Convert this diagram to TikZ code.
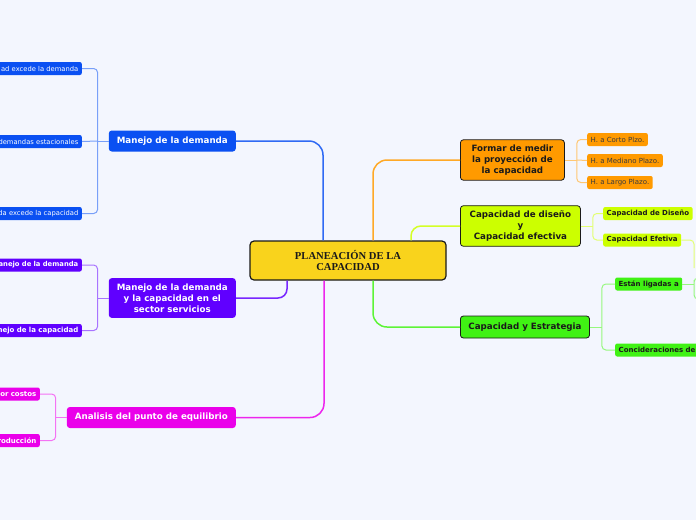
\documentclass[tikz,border=0pt]{standalone}
\usepackage{fontspec}
\setmainfont{DejaVu Sans}
\newfontfamily\rootfont{Liberation Serif}
\usetikzlibrary{positioning}
\definecolor{bgc}{HTML}{F3F6FE}
\definecolor{rootc}{HTML}{F9D31C}
\definecolor{bluec}{HTML}{0A50F2}
\definecolor{purpc}{HTML}{6000FF}
\definecolor{magc}{HTML}{EA00EA}
\definecolor{orac}{HTML}{FF9A00}
\definecolor{yelc}{HTML}{CCFF00}
\definecolor{grec}{HTML}{40F214}
\definecolor{inkc}{HTML}{1A1A1A}

\begin{document}
\begin{tikzpicture}[x=1pt,y=-1pt,
    rootbox/.style={draw=inkc,line width=1.2pt,fill=rootc,rounded corners=4pt,
        minimum width=196pt,minimum height=39pt,align=center,
        font=\rootfont\bfseries\fontsize{10.6}{11}\selectfont,text=inkc},
    topic/.style={rounded corners=3pt,inner xsep=8pt,inner ysep=3pt,
        minimum height=21pt,align=center,font=\bfseries\fontsize{8.7}{11}\selectfont},
    ltopic/.style={topic,fill=#1,text=white},
    rtopic/.style={topic,fill=#1,draw=inkc,line width=0.8pt,text=inkc},
    leaf/.style={rounded corners=2pt,inner xsep=3.5pt,inner ysep=1.5pt,
        minimum height=13pt,font=\fontsize{7}{8}\selectfont},
    bleaf/.style={font=\bfseries\fontsize{7}{8}\selectfont},
    lleaf/.style={leaf,fill=#1,text=white,text width=115pt,align=right,anchor=east},
    rleaf/.style={leaf,fill=#1,anchor=west},
    trunk/.style={#1!85,line width=1.5pt,rounded corners=14pt},
    twig/.style={#1!55,line width=1pt,rounded corners=4pt}]
\useasboundingbox (0,0) rectangle (696,520);
\fill[bgc] (0,0) rectangle (696,520);
\clip (0,0) rectangle (696,520);

% main topic
\node[rootbox](root) at (348,260.5) {PLANEACIÓN DE LA\\CAPACIDAD};

% left side
\node[ltopic=bluec,anchor=east](dem) at (236,141) {Manejo de la demanda};
\node[ltopic=purpc,anchor=east,inner ysep=5.5pt](serv) at (236,298)
    {Manejo de la demanda\\y la capacidad en el\\sector servicios};
\node[ltopic=magc,anchor=east](equi) at (236,417.5) {Analisis del punto de equilibrio};

\node[lleaf=bluec,font=\fontsize{6.75}{8}\selectfont](demA) at (82,68.5) {ad excede la demanda};
\node[lleaf=bluec,font=\fontsize{6.75}{8}\selectfont](demB) at (82,141.5) {demandas estacionales};
\node[lleaf=bluec,font=\fontsize{6.75}{8}\selectfont](demC) at (82,213.5) {da excede la capacidad};
\node[lleaf=purpc,bleaf,font=\bfseries\fontsize{6.8}{8}\selectfont](servA) at (82,265) {anejo de la demanda};
\node[lleaf=purpc,bleaf](servB) at (82,330.5) {nejo de la capacidad};
\node[lleaf=magc,bleaf](equiA) at (40,394) {or costos};
\node[lleaf=magc,bleaf](equiB) at (40,440.5) {roducción};

% right side
\node[rtopic=orac,anchor=west,inner ysep=5pt,minimum width=104pt](medir) at (460,160)
    {Formar de medir\\la proyección de\\la capacidad};
\node[rtopic=yelc,anchor=west,inner ysep=5pt,minimum width=120pt](dise) at (460,226)
    {Capacidad de diseño\\y\\Capacidad efectiva};
\node[rtopic=grec,anchor=west,minimum height=22pt](estr) at (460,327) {Capacidad y Estrategia};

\node[rleaf=orac,text=inkc!85](medA) at (587,139.5) {H. a Corto Plzo.};
\node[rleaf=orac,text=inkc!85](medB) at (587,160.5) {H. a Mediano Plazo.};
\node[rleaf=orac,text=inkc!85](medC) at (587,182.5) {H. a Largo Plazo.};
\node[rleaf=yelc,text=inkc,bleaf](diseA) at (603,213.5) {Capacidad de Diseño};
\node[rleaf=yelc,text=inkc,bleaf](diseB) at (603,240) {Capacidad Efetiva};
\node[rleaf=grec,text=inkc,bleaf](estrA) at (615,284) {Están ligadas a};
\node[rleaf=grec,text=inkc,bleaf,text width=100pt](estrB) at (615,350) {Concideraciones de};

% trunks
\draw[trunk=bluec] ([xshift=-25pt]root.north) |- (dem.east);
\draw[trunk=purpc,rounded corners=9pt] ([xshift=-61pt]root.south) |- (serv.east);
\draw[trunk=magc] ([xshift=-24pt]root.south) |- (equi.east);
\draw[trunk=orac] ([xshift=25pt]root.north) |- (medir.west);
\draw[trunk=yelc,rounded corners=10pt] ([xshift=63pt]root.north) |- (dise.west);
\draw[trunk=grec] ([xshift=25pt]root.south) |- (estr.west);

% twigs
\coordinate (demJ) at ([xshift=-11pt]dem.west);
\draw[twig=bluec] (dem.west) -- (demJ);
\draw[twig=bluec] (demA.east) -| (demJ) |- (demC.east);
\draw[twig=bluec] (demB.east) -- (demJ);
\coordinate (servJ) at ([xshift=-11pt]serv.west);
\draw[twig=purpc] (serv.west) -- (servJ);
\draw[twig=purpc] (servA.east) -| (servJ) |- (servB.east);
\coordinate (equiJ) at ([xshift=-11pt]equi.west);
\draw[twig=magc] (equi.west) -- (equiJ);
\draw[twig=magc] (equiA.east) -| (equiJ) |- (equiB.east);

\coordinate (medJ) at ([xshift=12pt]medir.east);
\draw[twig=orac] (medir.east) -- (medJ);
\draw[twig=orac] (medA.west) -| (medJ) |- (medC.west);
\draw[twig=orac] (medB.west) -- (medJ);
\coordinate (diseJ) at ([xshift=12pt]dise.east);
\draw[twig=yelc] (dise.east) -- (diseJ);
\draw[twig=yelc] (diseA.west) -| (diseJ) |- (diseB.west);
\coordinate (estrJ) at ([xshift=12pt]estr.east);
\draw[twig=grec] (estr.east) -- (estrJ);
\draw[twig=grec] (estrA.west) -| (estrJ) |- (estrB.west);

% branches running off the page
\coordinate (diseBJ) at (694,240);
\coordinate (diseBE) at (694,268);
\draw[twig=yelc] (diseB.east) -- (diseBJ) -- (diseBE);
\coordinate (estrAJ) at (694,284);
\coordinate (estrAT) at (704,278);
\coordinate (estrAB) at (704,299);
\draw[twig=grec] (estrA.east) -- (estrAJ);
\draw[twig=grec] (estrAT) -| (estrAJ) |- (estrAB);
\end{tikzpicture}
\end{document}
